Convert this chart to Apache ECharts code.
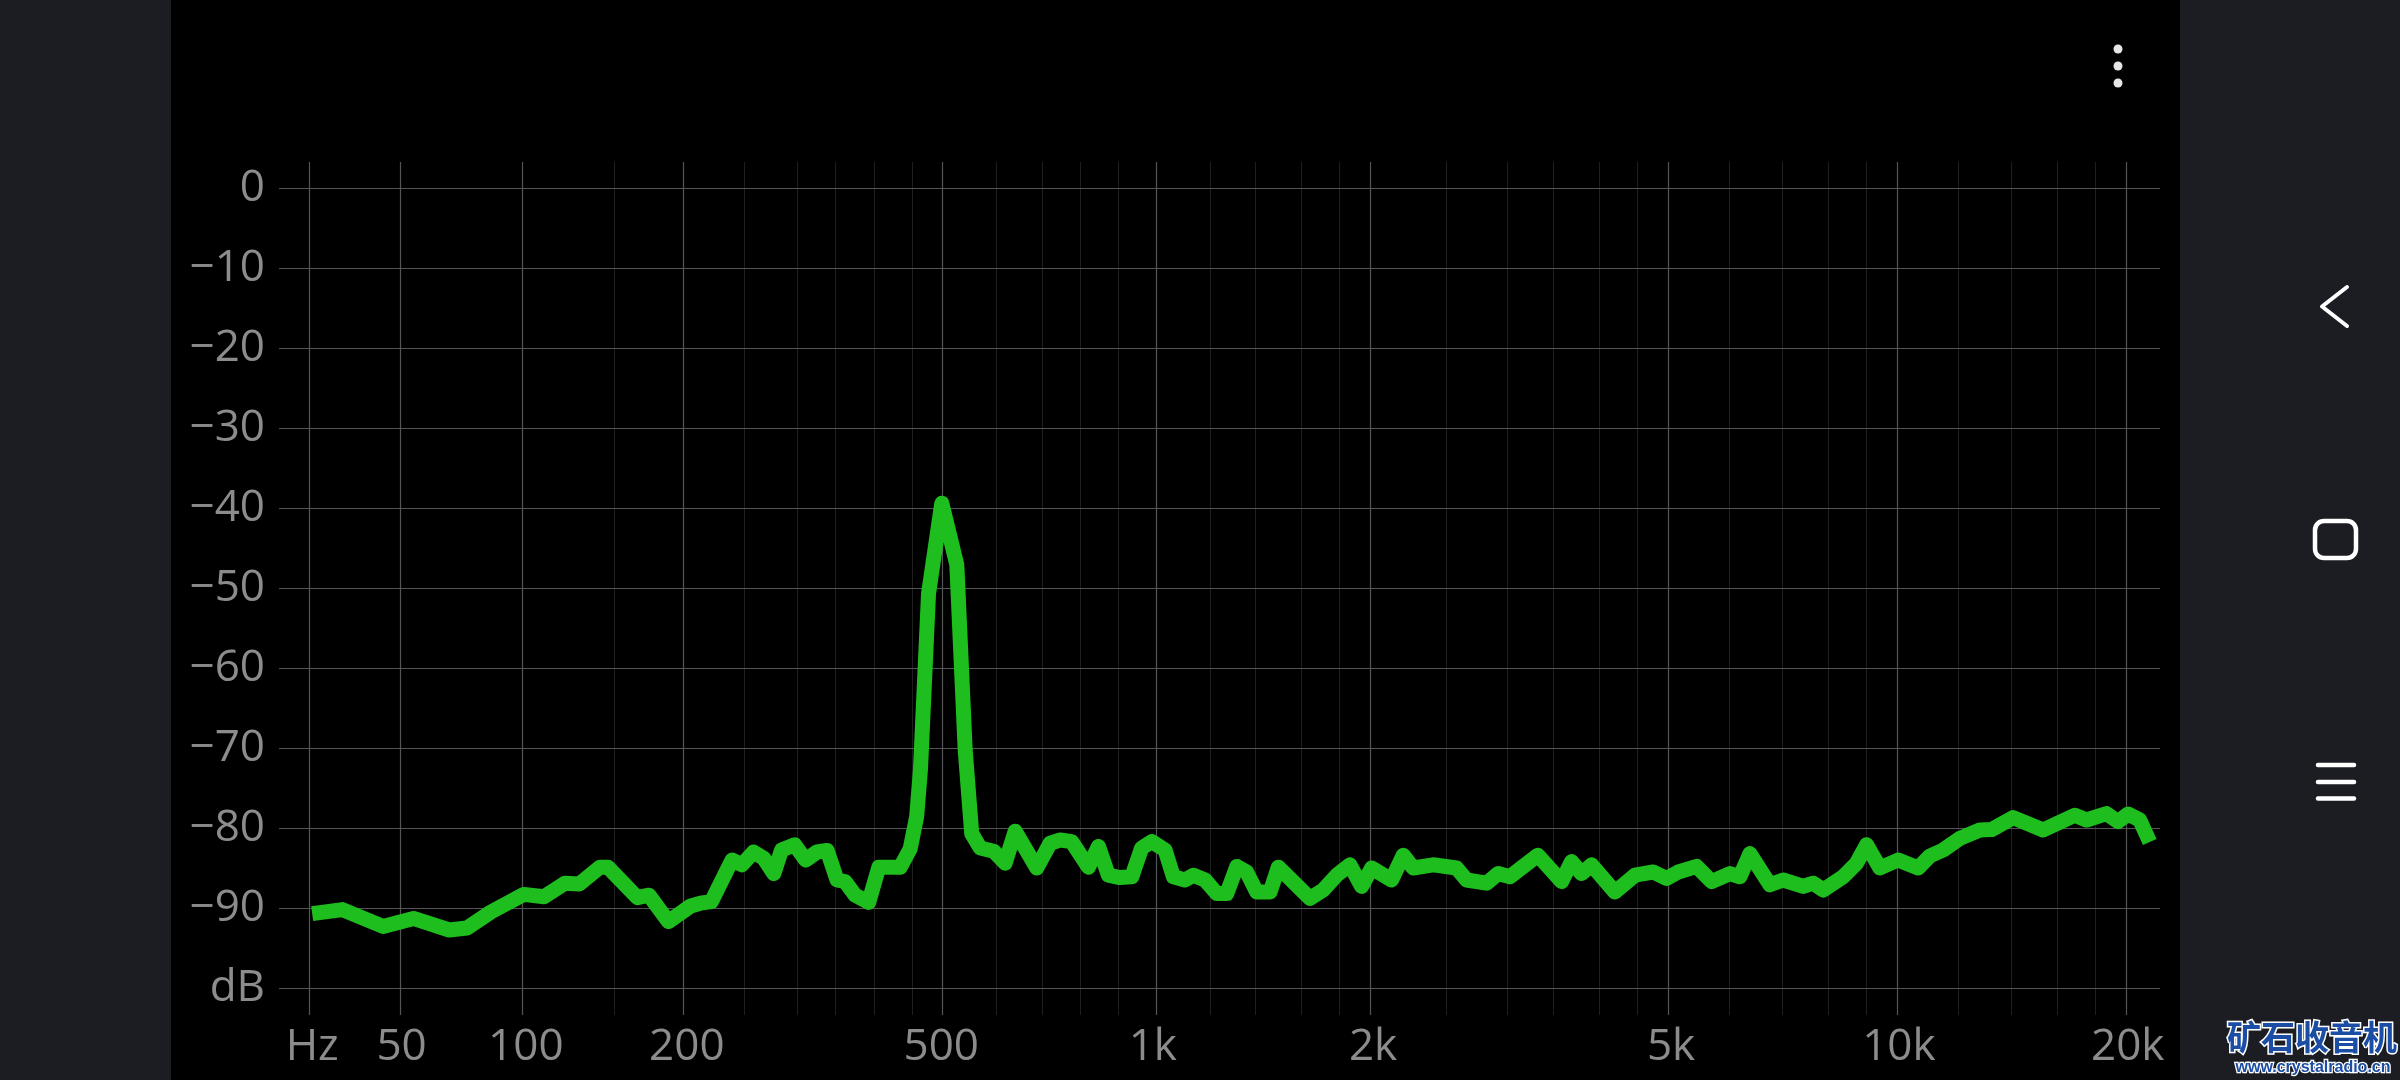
<!DOCTYPE html>
<html>
<head>
<meta charset="utf-8">
<script src="https://cdn.jsdelivr.net/npm/echarts@6/dist/echarts.min.js"></script>
<style>
html,body{margin:0;padding:0;background:#000;}
#chart{width:2400px;height:1080px;}
</style>
</head>
<body>
<div id="chart"></div>
<script>
// ---- data ----
const freqHz = [24, 32, 44, 54, 67, 74, 84, 99, 109, 120,
  128, 140, 145, 164, 172, 186, 203, 211, 220, 238,
  247, 258, 268, 278, 286, 300, 312, 325, 337, 349,
  359, 372, 390, 404, 435, 450, 460, 466, 479, 501,
  527, 542, 554, 570, 596, 619, 640, 687, 718, 742,
  770, 813, 840, 867, 900, 935, 965, 997, 1040, 1068,
  1108, 1138, 1181, 1226, 1265, 1306, 1347, 1390, 1450, 1488,
  1643, 1712, 1786, 1861, 1930, 1991, 2118, 2196, 2265, 2409,
  2590, 2671, 2841, 2944, 3052, 3326, 3577, 3688, 3803, 3921,
  4212, 4478, 4735, 4933, 5111, 5406, 5658, 5983, 6168, 6358,
  6757, 7036, 7479, 7710, 7948, 8443, 8794, 9065, 9439, 9976,
  10602, 10984, 11437, 12030, 12782, 13243, 14137, 15481, 17040, 17654,
  18753, 19422, 20019, 20740, 21377];
const levelDb = [-90.7, -90.2, -92.3, -91.3, -92.75, -92.5, -90.5, -88.3, -88.6, -86.9,
  -87.0, -84.9, -84.9, -88.7, -88.4, -91.7, -89.75, -89.4, -89.2, -84.0,
  -84.6, -83.0, -83.8, -85.7, -82.75, -82.1, -84.0, -83.0, -82.8, -86.5,
  -86.7, -88.4, -89.3, -84.9, -84.9, -82.6, -78.6, -72.75, -50.7, -39.4,
  -47.1, -70.25, -80.7, -82.5, -82.9, -84.4, -80.4, -85.0, -81.9, -81.5,
  -81.7, -84.9, -82.3, -85.9, -86.2, -86.1, -82.5, -81.7, -82.75, -86.1,
  -86.5, -85.9, -86.5, -88.2, -88.2, -84.8, -85.5, -88.0, -88.0, -84.9,
  -88.8, -87.75, -85.9, -84.6, -87.3, -85.0, -86.5, -83.4, -85.0, -84.6,
  -85.0, -86.5, -86.9, -85.7, -86.1, -83.4, -86.7, -84.2, -85.7, -84.6,
  -88.0, -85.9, -85.5, -86.3, -85.5, -84.8, -86.7, -85.7, -86.1, -83.2,
  -87.1, -86.5, -87.3, -86.9, -87.75, -86.1, -84.4, -82.1, -85.0, -84.0,
  -85.0, -83.5, -82.75, -81.3, -80.25, -80.2, -78.7, -80.25, -78.4, -79.0,
  -78.2, -79.2, -78.25, -79.0, -81.75];

const majorFreqs = [24, 50, 100, 200, 500, 1000, 2000, 5000, 10000, 20000];
const majorLabels = ['Hz', '50', '100', '200', '500', '1k', '2k', '5k', '10k', '20k'];
const minorFreqs = [150, 250, 300, 350, 400, 450, 600, 700, 800, 900,
  1200, 1400, 1600, 1800, 2500, 3000, 3500, 4000, 4500,
  6000, 7000, 8000, 9000, 12000, 14000, 16000, 18000];
const dbTicks = [0, -10, -20, -30, -40, -50, -60, -70, -80, -90, -100];
const dbLabels = ['0', '−10', '−20', '−30', '−40', '−50', '−60', '−70', '−80', '−90', 'dB'];
const freqRange = [16, 22050];
const dbRange = [-103.375, 3.25];

// ---- frequency warp used by the app's axis: log10(f + 60) ----
const OFFSET = 60;
const warp = f => Math.log10(f + OFFSET);

const chart = echarts.init(document.getElementById('chart'), null, {renderer: 'canvas'});

const labelStyle = {color: '#8c8c8c', fontSize: 44, fontFamily: '"Open Sans", "Noto Sans", sans-serif'};

const gridLines = [];
minorFreqs.forEach(f => gridLines.push({xAxis: warp(f), lineStyle: {color: '#1f1f1f', width: 1, type: 'solid'}}));
majorFreqs.forEach(f => gridLines.push({xAxis: warp(f), lineStyle: {color: '#555555', width: 1.2, type: 'solid'}}));
dbTicks.forEach(v => gridLines.push({yAxis: v, lineStyle: {color: '#555555', width: 1.2, type: 'solid'}}));

const option = {
  backgroundColor: '#000000',
  animation: false,
  grid: {left: 279, right: 240, top: 162, bottom: 65, containLabel: false},
  xAxis: {
    type: 'value',
    min: warp(freqRange[0]),
    max: warp(freqRange[1]),
    axisLine: {show: false},
    axisTick: {show: false},
    splitLine: {show: false},
    axisLabel: Object.assign({}, labelStyle, {
      customValues: majorFreqs.map(warp),
      margin: 10,
      formatter: function (v) {
        let best = 0, bd = Infinity;
        majorFreqs.forEach((f, i) => { const d = Math.abs(warp(f) - v); if (d < bd) { bd = d; best = i; } });
        return majorLabels[best];
      }
    })
  },
  yAxis: {
    type: 'value',
    min: dbRange[0],
    max: dbRange[1],
    axisLine: {show: false},
    axisTick: {show: false},
    splitLine: {show: false},
    axisLabel: Object.assign({}, labelStyle, {
      customValues: dbTicks,
      margin: 14,
      formatter: function (v) {
        let best = 0, bd = Infinity;
        dbTicks.forEach((t, i) => { const d = Math.abs(t - v); if (d < bd) { bd = d; best = i; } });
        return dbLabels[best];
      }
    })
  },
  graphic: [
    {type: 'rect', shape: {x: 0, y: 0, width: 171, height: 1080}, style: {fill: '#1c1d22'}, z: 0},
    {type: 'rect', shape: {x: 2180, y: 0, width: 220, height: 1080}, style: {fill: '#1c1d22'}, z: 0},
    // overflow menu dots
    {type: 'circle', shape: {cx: 2118, cy: 49, r: 4.5}, style: {fill: '#e6e6e6'}},
    {type: 'circle', shape: {cx: 2118, cy: 66, r: 4.5}, style: {fill: '#e6e6e6'}},
    {type: 'circle', shape: {cx: 2118, cy: 83, r: 4.5}, style: {fill: '#e6e6e6'}},
    // navigation bar icons
    {type: 'polyline', shape: {points: [[2347, 287], [2322, 306.5], [2347, 326]]},
      style: {stroke: '#ffffff', lineWidth: 4, fill: null, lineCap: 'round', lineJoin: 'round'}},
    {type: 'rect', shape: {x: 2315, y: 521, width: 41, height: 37, r: 9},
      style: {stroke: '#ffffff', lineWidth: 4.5, fill: null}},
    {type: 'polyline', shape: {points: [[2318, 765], [2354, 765]]}, style: {stroke: '#ffffff', lineWidth: 4.5, lineCap: 'round', fill: null}},
    {type: 'polyline', shape: {points: [[2318, 782], [2354, 782]]}, style: {stroke: '#ffffff', lineWidth: 4.5, lineCap: 'round', fill: null}},
    {type: 'polyline', shape: {points: [[2318, 798.5], [2354, 798.5]]}, style: {stroke: '#ffffff', lineWidth: 4.5, lineCap: 'round', fill: null}},
    // watermark
    {type: 'text', x: 2312, y: 1037, style: {text: '矿石收音机', font: 'bold 34px "Noto Sans CJK SC"', fill: '#1a4da3',
      stroke: '#ffffff', lineWidth: 3, align: 'center', verticalAlign: 'middle'}},
    {type: 'text', x: 2313, y: 1068, style: {text: 'www.crystalradio.cn', font: 'bold 16px "Liberation Sans"', fill: '#1a4da3',
      stroke: '#ffffff', lineWidth: 2.5, align: 'center', verticalAlign: 'middle'}}
  ],
  series: [
    {
      type: 'line',
      data: [],
      silent: true,
      z: 1,
      markLine: {
        silent: true,
        symbol: 'none',
        z: 1,
        animation: false,
        label: {show: false},
        emphasis: {disabled: true},
        data: gridLines
      }
    },
    {
      type: 'line',
      name: 'spectrum',
      z: 5,
      data: freqHz.map((f, i) => [warp(f), levelDb[i]]),
      showSymbol: false,
      symbol: 'none',
      smooth: false,
      lineStyle: {color: '#1ebe1e', width: 15, join: 'round', cap: 'butt'},
      emphasis: {disabled: true}
    }
  ]
};
chart.setOption(option);
</script>
</body>
</html>
